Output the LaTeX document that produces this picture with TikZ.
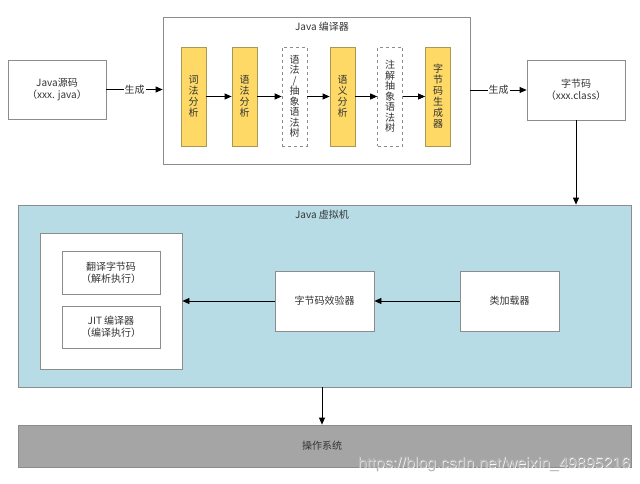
\documentclass[tikz,border=0pt]{standalone}
\usepackage{fontspec}
\setmainfont{Noto Sans CJK SC}
\newfontfamily\wmfont{Liberation Sans}
\usetikzlibrary{arrows.meta}
\definecolor{boxgray}{HTML}{8C8C8C}
\definecolor{txtgray}{HTML}{333333}
\definecolor{stepyellow}{HTML}{FFD966}
\definecolor{stepborder}{HTML}{A89858}
\definecolor{jvmblue}{HTML}{B8DCE6}
\definecolor{osgray}{HTML}{A5A5A5}
\begin{document}
\begin{tikzpicture}[x=1pt,y=-1pt,
  every node/.style={text=txtgray, font=\fontsize{10}{12}\selectfont, inner sep=0pt},
  plainbox/.style={draw=boxgray, fill=white, line width=0.8pt, align=center},
  stepbox/.style={draw=stepborder, fill=stepyellow, line width=0.8pt, minimum width=25pt, minimum height=99pt, align=center, text width=12pt, font=\fontsize{10}{11}\selectfont},
  treebox/.style={draw=boxgray, fill=white, dashed, line width=0.6pt, minimum width=25pt, minimum height=99pt, align=center, text width=12pt, font=\fontsize{10}{10.5}\selectfont},
  conn/.style={draw=black, line width=0.8pt, -{Triangle[length=7pt,width=6pt]}},
  lbl/.style={fill=white, inner sep=1pt}
]
\useasboundingbox (0,0) rectangle (640,484);

% Java source
\node[plainbox, minimum width=98pt, minimum height=59pt] (src) at (57,89.5) {Java源码\\（xxx. java）};

% compiler
\node[plainbox, minimum width=307pt, minimum height=147pt] (comp) at (316.5,90.5) {};
\node (comptitle) at (322,27) {Java 编译器};

\node[stepbox] (s1) at (193.5,96.5) {词\\法\\分\\析};
\node[stepbox] (s2) at (244.5,96.5) {语\\法\\分\\析};
\node[treebox] (s3) at (294.5,96.5) {语\\法\\/\\抽\\象\\语\\法\\树};
\node[stepbox] (s4) at (342.5,96.5) {语\\义\\分\\析};
\node[treebox] (s5) at (390,96.5) {注\\解\\抽\\象\\语\\法\\树};
\node[stepbox] (s6) at (438,96.5) {字\\节\\码\\生\\成\\器};

\draw[conn] (s1) -- (s2);
\draw[conn] (s2) -- (s3);
\draw[conn] (s3) -- (s4);
\draw[conn] (s4) -- (s5);
\draw[conn] (s5) -- (s6);

% bytecode
\node[plainbox, minimum width=98pt, minimum height=60pt] (bc) at (576,90) {字节码\\（xxx.class）};

\draw[conn] (src.east) -- node[lbl] (g1) {生成} (src.east -| comp.west);
\draw[conn] (comp.east |- bc.west) -- node[lbl] (g2) {生成} (bc.west);

% JVM
\node[draw=boxgray, fill=jvmblue, line width=0.8pt, minimum width=613pt, minimum height=182pt] (jvm) at (324.5,296) {};
\node (jvmtitle) at (322,215) {Java 虚拟机};

\node[plainbox, minimum width=142pt, minimum height=136pt] (exec) at (111,301) {};
\node[plainbox, minimum width=98pt, minimum height=43pt] (interp) at (111,272.5) {翻译字节码\\（解析执行）};
\node[plainbox, minimum width=98pt, minimum height=42pt] (jit) at (111,327) {JIT 编译器\\（编译执行）};

\node[plainbox, minimum width=99pt, minimum height=60pt] (verify) at (324.5,301) {字节码效验器};
\node[plainbox, minimum width=99pt, minimum height=60pt] (loader) at (509.5,301) {类加载器};

\draw[conn] (loader.west) -- (verify.east);
\draw[conn] (verify.west) -- (exec.east);
\draw[conn] (bc.south) -- (bc.south |- jvm.north);

% OS
\node[draw=boxgray, fill=osgray, line width=0.8pt, minimum width=613pt, minimum height=42pt] (os) at (324.5,446) {};
\node (ostext) at (322,446) {操作系统};
\draw[conn] (322,387) coordinate (jvmb) -- (jvmb |- os.north);

% watermark
\node[anchor=east, text=white, font=\wmfont\fontsize{16}{16}\selectfont] (wm) at (631,465) {https://blog.csdn.net/weixin\_49895216};
\node[anchor=east, text=gray!60, font=\wmfont\fontsize{16}{16}\selectfont] (wm2) at (630.5,464.5) {https://blog.csdn.net/weixin\_49895216};
\end{tikzpicture}
\end{document}
